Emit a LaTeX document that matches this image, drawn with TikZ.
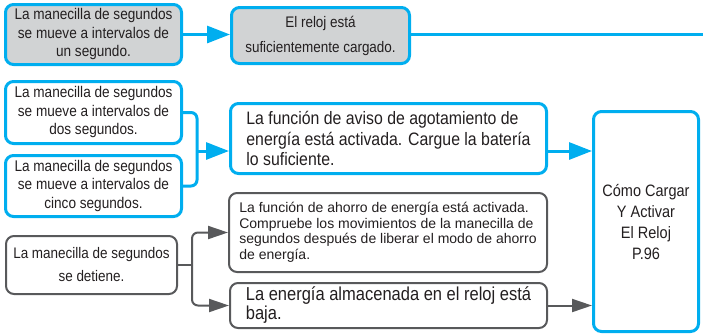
\documentclass[tikz,border=0pt]{standalone}
\usepackage{fontspec}
\setmainfont{Liberation Sans}
\newfontfamily\tallfont[FakeStretch=0.88]{Liberation Sans}
\usetikzlibrary{arrows.meta}
\definecolor{watchblue}{HTML}{00AEEF}
\definecolor{watchgray}{HTML}{58595B}
\definecolor{panelgray}{HTML}{D1D3D4}
\definecolor{inkblack}{HTML}{231F20}
\begin{document}
\begin{tikzpicture}[x=1pt,y=-1pt,
	bluebox/.style={draw=watchblue, line width=3pt, rounded corners=8pt, fill=white, text=inkblack, align=center, inner sep=0pt},
	greybox/.style={draw=watchgray, line width=2pt, rounded corners=8pt, fill=white, text=inkblack, align=center, inner sep=0pt},
	bluearrow/.style={draw=watchblue, line width=3pt, -{Triangle[length=23pt,width=17pt]}},
	greyarrow/.style={draw=watchgray, line width=2pt, -{Triangle[length=20pt,width=13pt]}}]
	\useasboundingbox (0,0) rectangle (703,335);
	\node[bluebox, fill=panelgray, minimum width=176pt, minimum height=60pt, font=\tallfont\fontsize{15.45}{18.5}\selectfont] (oneSec) at (93.5,34.5) {La manecilla de segundos\\se mueve a intervalos de\\un segundo.};
	\node[bluebox, fill=panelgray, minimum width=178pt, minimum height=56pt, font=\tallfont\fontsize{15.3}{25}\selectfont] (charged) at (320.5,35.5) {El reloj está\\suficientemente cargado.};
	\node[bluebox, minimum width=176pt, minimum height=62pt, font=\tallfont\fontsize{15.45}{18.5}\selectfont] (twoSec) at (93.5,112.5) {La manecilla de segundos\\se mueve a intervalos de\\dos segundos.};
	\node[bluebox, minimum width=176pt, minimum height=61pt, font=\tallfont\fontsize{15.45}{18.5}\selectfont] (fiveSec) at (93.5,186) {La manecilla de segundos\\se mueve a intervalos de\\cinco segundos.};
	\node[bluebox, align=left, minimum width=316pt, minimum height=70pt, font=\tallfont\fontsize{18}{20.5}\selectfont] (warning) at (388.5,138.5) {La función de aviso de agotamiento de\\energía está activada. Cargue la batería\\lo suficiente.};
	\node[bluebox, minimum width=105pt, minimum height=220pt, font=\tallfont\fontsize{16.5}{21}\selectfont] (howTo) at (646,221.5) {Cómo Cargar\\Y Activar\\El Reloj\\P.96};
	\node[greybox, align=left, minimum width=318pt, minimum height=79pt, font=\fontsize{14}{15.5}\selectfont] (saving) at (388,232.5) {La función de ahorro de energía está activada.\\Compruebe los movimientos de la manecilla de\\segundos después de liberar el modo de ahorro\\de energía.};
	\node[greybox, align=left, minimum width=317pt, minimum height=45pt, font=\tallfont\fontsize{18.75}{19}\selectfont] (lowPower) at (388.5,305.5) {La energía almacenada en el reloj está\\baja.};
	\node[greybox, minimum width=171pt, minimum height=58pt, font=\tallfont\fontsize{15.3}{23}\selectfont] (stopped) at (91.5,265) {La manecilla de segundos\\se detiene.};
	\coordinate (edge) at (703,34);
	\coordinate (joinBlue) at (197,151);
	\coordinate (joinGrey) at (192,265);
	\draw[bluearrow] (oneSec.east) -- (oneSec.east -| charged.west);
	\draw[draw=watchblue, line width=3pt] (charged.east |- edge) -- (edge);
	\draw[draw=watchblue, line width=3pt, rounded corners=6pt] (twoSec.east) -| (joinBlue) |- (fiveSec.east);
	\draw[bluearrow] (joinBlue) -- (joinBlue -| warning.west);
	\draw[bluearrow] (warning.east |- joinBlue) -- (joinBlue -| howTo.west);
	\draw[draw=watchgray, line width=2pt] (stopped.east) -- (joinGrey);
	\draw[greyarrow, rounded corners=6pt] (joinGrey) |- (saving.west);
	\draw[greyarrow, rounded corners=6pt] (joinGrey) |- (lowPower.west);
	\draw[greyarrow] (lowPower.east) -- (lowPower.east -| howTo.west);
\end{tikzpicture}
\end{document}
